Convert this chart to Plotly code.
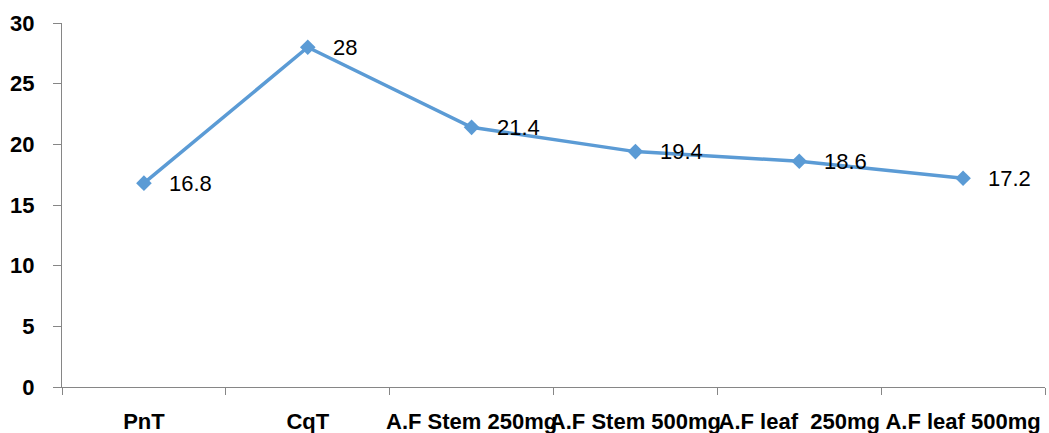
import plotly.graph_objects as go

categories = ["PnT", "CqT", "A.F Stem 250mg", "A.F Stem 500mg", "A.F leaf  250mg", "A.F leaf 500mg"]
values = [16.8, 28, 21.4, 19.4, 18.6, 17.2]
y_ticks = [0, 5, 10, 15, 20, 25, 30]

line_color = "#5B9BD5"
axis_color = "#868686"
font_family = "Liberation Sans, Arial, sans-serif"

fig = go.Figure()
fig.add_trace(go.Scatter(
    x=categories,
    y=values,
    mode="lines+markers",
    line=dict(color=line_color, width=3.5),
    marker=dict(symbol="diamond", size=12, color=line_color),
    showlegend=False,
    hoverinfo="skip",
))

# value labels to the right of each point
for cat, val in zip(categories, values):
    fig.add_annotation(
        x=cat, y=val, text=f"{val:g}",
        xanchor="left", yanchor="middle", xshift=23, yshift=0,
        showarrow=False,
        font=dict(family=font_family, size=22, color="#000000"),
    )

fig.update_xaxes(
    type="category",
    categoryorder="array",
    categoryarray=categories,
    range=[-0.5, len(categories) - 0.5],
    showline=True, linecolor=axis_color, linewidth=1,
    ticks="outside", tickson="boundaries", ticklen=7, tickcolor=axis_color,
    showgrid=False, zeroline=False,
    tickangle=0, automargin=False,
    tickfont=dict(family=font_family, size=22, color="#000000", weight="bold"),
    ticklabelstandoff=15,
)
fig.update_yaxes(
    range=[0, 30],
    tickvals=y_ticks,
    showline=True, linecolor=axis_color, linewidth=1,
    ticks="outside", ticklen=8, tickcolor=axis_color,
    showgrid=False, zeroline=False,
    automargin=False,
    tickfont=dict(family=font_family, size=22, color="#000000", weight="bold"),
    ticklabelstandoff=14,
)
fig.update_layout(
    width=1049, height=433,
    margin=dict(l=62, r=4, t=23, b=46),
    paper_bgcolor="white", plot_bgcolor="white",
)

fig.write_html("out.html")
